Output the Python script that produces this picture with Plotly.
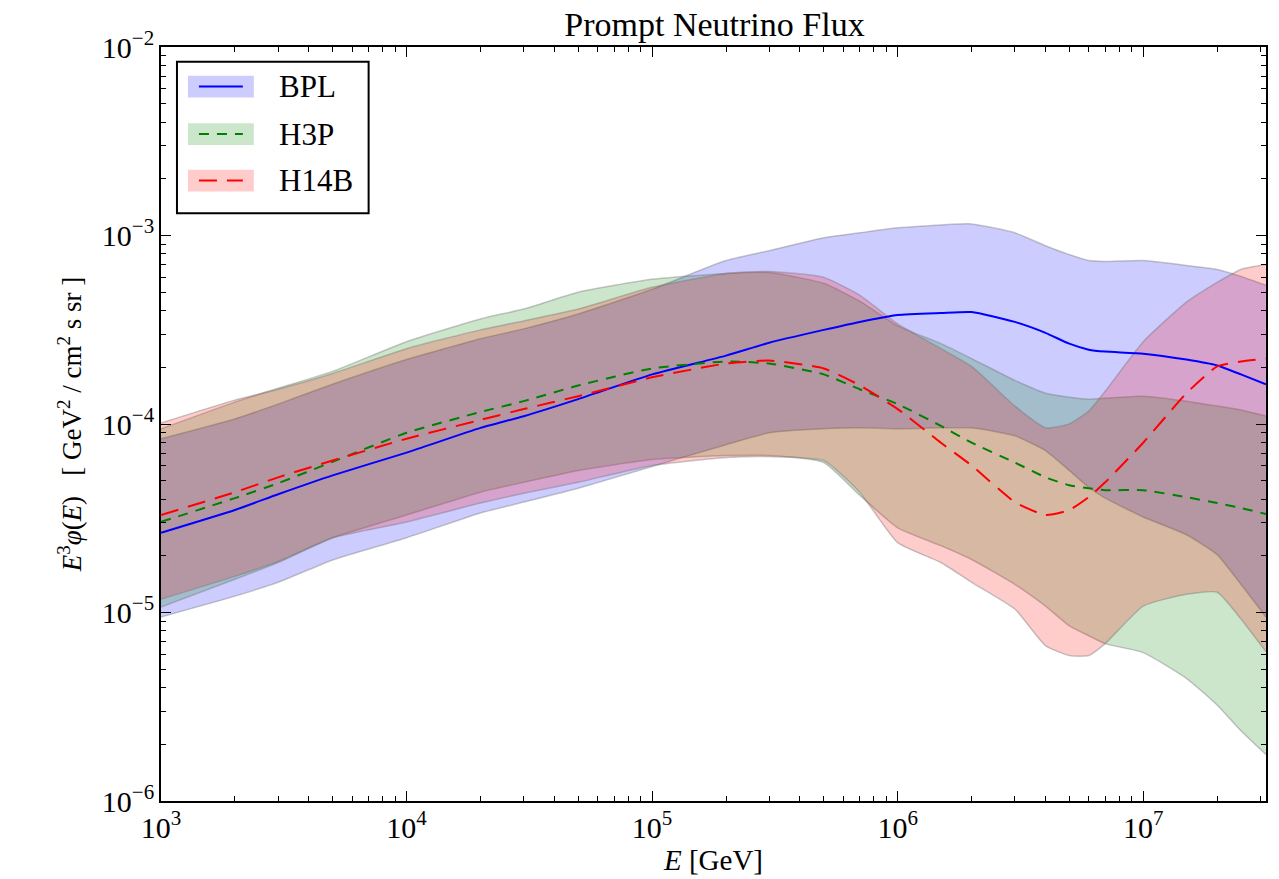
import plotly.graph_objects as go

# Energy grid [GeV]
E = [1e3, 2e3, 3e3, 5e3, 1e4, 2e4, 3e4, 5e4, 1e5, 2e5, 3e5, 5e5, 7e5, 1e6, 1.5e6,
     2e6, 3e6, 4e6, 5e6, 6e6, 7e6, 1e7, 1.5e7, 2e7, 2.5e7, 3.16e7]

# BPL
bpl_mid = [2.65e-5, 3.50e-5, 4.24e-5, 5.339e-5, 7.05e-5, 9.54e-5, 1.10e-4, 1.355e-4, 1.833e-4,
           2.306e-4, 2.70e-4, 3.157e-4, 3.48e-4, 3.787e-4, 3.88e-4, 3.926e-4, 3.48e-4, 3.045e-4,
           2.667e-4, 2.48e-4, 2.421e-4, 2.362e-4, 2.197e-4, 2.044e-4, 1.833e-4, 1.624e-4]
bpl_hi = [8.35e-5, 1.064e-4, 1.275e-4, 1.624e-4, 2.197e-4, 2.833e-4, 3.197e-4, 3.832e-4, 5.185e-4,
          7.363e-4, 8.31e-4, 9.725e-4, 1.033e-3, 1.098e-3, 1.138e-3, 1.152e-3, 1.033e-3, 8.829e-4,
          7.917e-4, 7.363e-4, 7.275e-4, 7.363e-4, 6.932e-4, 6.605e-4, 6.07e-4, 5.441e-4]
bpl_lo = [9.47e-6, 1.221e-5, 1.446e-5, 1.90e-5, 2.492e-5, 3.372e-5, 3.852e-5, 4.563e-5, 5.953e-5,
          7.766e-5, 8.981e-5, 9.425e-5, 9.54e-5, 9.425e-5, 9.54e-5, 9.54e-5, 8.66e-5, 7.223e-5,
          5.672e-5, 4.618e-5, 4.044e-5, 3.213e-5, 2.584e-5, 2.029e-5, 1.411e-5, 9.47e-6]

# H3P
h3p_mid = [3.024e-5, 4.044e-5, 4.85e-5, 6.30e-5, 8.981e-5, 1.158e-4, 1.322e-4, 1.60e-4, 1.971e-4,
           2.145e-4, 2.094e-4, 1.833e-4, 1.529e-4, 1.275e-4, 9.77e-5, 7.956e-5, 6.249e-5, 5.212e-5,
           4.731e-5, 4.563e-5, 4.454e-5, 4.454e-5, 4.092e-5, 3.805e-5, 3.583e-5, 3.331e-5]
h3p_hi = [9.425e-5, 1.306e-4, 1.547e-4, 1.901e-4, 2.732e-4, 3.609e-4, 4.072e-4, 5.001e-4, 5.854e-4,
          6.293e-4, 6.37e-4, 5.575e-4, 4.486e-4, 3.315e-4, 2.667e-4, 2.224e-4, 1.704e-4, 1.457e-4,
          1.388e-4, 1.355e-4, 1.371e-4, 1.405e-4, 1.322e-4, 1.245e-4, 1.186e-4, 1.103e-4]
h3p_lo = [1.069e-5, 1.50e-5, 1.842e-5, 2.492e-5, 3.291e-5, 4.347e-5, 4.905e-5, 5.672e-5, 6.48e-5,
          6.801e-5, 6.801e-5, 6.249e-5, 4.192e-5, 2.813e-5, 2.262e-5, 1.91e-5, 1.411e-5, 1.082e-5,
          8.496e-6, 7.526e-6, 6.834e-6, 6.129e-6, 4.475e-6, 3.228e-6, 2.357e-6, 1.764e-6]

# H14B
h14b_mid = [3.291e-5, 4.347e-5, 5.212e-5, 6.402e-5, 8.35e-5, 1.051e-4, 1.20e-4, 1.405e-4, 1.768e-4,
            2.094e-4, 2.171e-4, 1.971e-4, 1.605e-4, 1.2e-4, 7.956e-5, 6.026e-5, 3.852e-5, 3.291e-5,
            3.497e-5, 4.092e-5, 4.905e-5, 7.956e-5, 1.457e-4, 2.02e-4, 2.145e-4, 2.224e-4]
h14b_hi = [1.013e-4, 1.339e-4, 1.529e-4, 1.855e-4, 2.51e-4, 3.157e-4, 3.522e-4, 4.072e-4, 5.312e-4,
           6.293e-4, 6.448e-4, 5.997e-4, 4.824e-4, 3.396e-4, 2.51e-4, 2.02e-4, 1.245e-4, 9.54e-5,
           1.001e-4, 1.172e-4, 1.492e-4, 2.732e-4, 4.432e-4, 5.643e-4, 6.605e-4, 7.016e-4]
h14b_lo = [1.177e-5, 1.555e-5, 1.864e-5, 2.492e-5, 3.024e-5, 3.805e-5, 4.295e-5, 4.905e-5, 6.026e-5,
           6.637e-5, 6.718e-5, 6.402e-5, 4.347e-5, 2.346e-5, 1.842e-5, 1.446e-5, 1.043e-5, 6.669e-6,
           5.911e-6, 5.911e-6, 6.834e-6, 1.082e-5, 1.251e-5, 1.281e-5, 9.245e-6, 6.204e-6]

names = ["BPL", "H3P", "H14B"]
mids = [bpl_mid, h3p_mid, h14b_mid]
his = [bpl_hi, h3p_hi, h14b_hi]
los = [bpl_lo, h3p_lo, h14b_lo]
line_colors = ["#0000ff", "#008000", "#ff0000"]
fill_colors = ["rgba(0,0,255,0.2)", "rgba(0,128,0,0.2)", "rgba(255,0,0,0.2)"]
dashes = ["solid", "10px,8px", "18px,10px"]
edge = "rgba(110,110,110,0.38)"
FONT = "Liberation Serif"

fig = go.Figure()
for lo, hi, fc in zip(los, his, fill_colors):
    fig.add_trace(go.Scatter(x=E, y=lo, mode="lines", showlegend=False, hoverinfo="skip",
                             line=dict(color=edge, width=1.5, shape="spline", smoothing=0.5)))
    fig.add_trace(go.Scatter(x=E, y=hi, mode="lines", showlegend=False, hoverinfo="skip",
                             fill="tonexty", fillcolor=fc,
                             line=dict(color=edge, width=1.5, shape="spline", smoothing=0.5)))
for name, mid, lc, d in zip(names, mids, line_colors, dashes):
    fig.add_trace(go.Scatter(x=E, y=mid, mode="lines", name=name, showlegend=False,
                             line=dict(color=lc, width=2, dash=d, shape="spline", smoothing=0.5)))

# manual legend (paper coordinates)
W, H = 1107.0, 762.0
def px(x):
    return (x - 161) / W
def py(y):
    return (809 - y) / H

shapes = [dict(type="rect", xref="paper", yref="paper", x0=px(177), x1=px(369), y0=py(215), y1=py(62),
               line=dict(color="black", width=2), fillcolor="white", layer="above")]
annotations = []
rows = [87, 135, 182]
for i, name in enumerate(names):
    yc = rows[i]
    shapes.append(dict(type="rect", xref="paper", yref="paper", x0=px(188), x1=px(254),
                       y0=py(yc + 11), y1=py(yc - 11), line=dict(width=0),
                       fillcolor=fill_colors[i], layer="above"))
    shapes.append(dict(type="line", xref="paper", yref="paper", x0=px(199), x1=px(243),
                       y0=py(yc), y1=py(yc), line=dict(color=line_colors[i], width=2, dash=dashes[i]),
                       layer="above"))
    annotations.append(dict(xref="paper", yref="paper", x=px(277), y=py(yc), text=name,
                            showarrow=False, xanchor="left", yanchor="middle",
                            font=dict(family=FONT, size=31, color="black")))

axis_common = dict(type="log", showgrid=False, zeroline=False, showline=True, linecolor="black",
                   linewidth=2, mirror="allticks", ticks="inside", ticklen=10, tickwidth=1.2,
                   tickcolor="black", dtick=1, exponentformat="power",
                   tickfont=dict(family=FONT, size=24, color="black"),
                   minor=dict(ticks="inside", ticklen=5, tickwidth=1, tickcolor="black",
                              dtick="D1", showgrid=False))

fig.update_layout(
    width=1279, height=879,
    margin=dict(l=161, r=11, t=47, b=70),
    paper_bgcolor="white", plot_bgcolor="white",
    title=dict(text="Prompt Neutrino Flux", x=(161 + 1268) / 2 / 1279, xanchor="center",
               y=1 - 24 / 879, yanchor="middle",
               font=dict(family=FONT, size=34, color="black")),
    xaxis=dict(axis_common, range=[3, 7.5],
               title=dict(text="<i>E</i> [GeV]", font=dict(family=FONT, size=29, color="black"),
                          standoff=4)),
    yaxis=dict(axis_common, range=[-6, -2],
               title=dict(text="<i>E</i><sup>3</sup><i>φ</i>(<i>E</i>)   [ GeV<sup>2</sup> / cm<sup>2</sup> s sr ]",
                          font=dict(family=FONT, size=27, color="black"), standoff=12)),
    shapes=shapes,
    annotations=annotations,
    showlegend=False,
)

fig.write_html("out.html")
